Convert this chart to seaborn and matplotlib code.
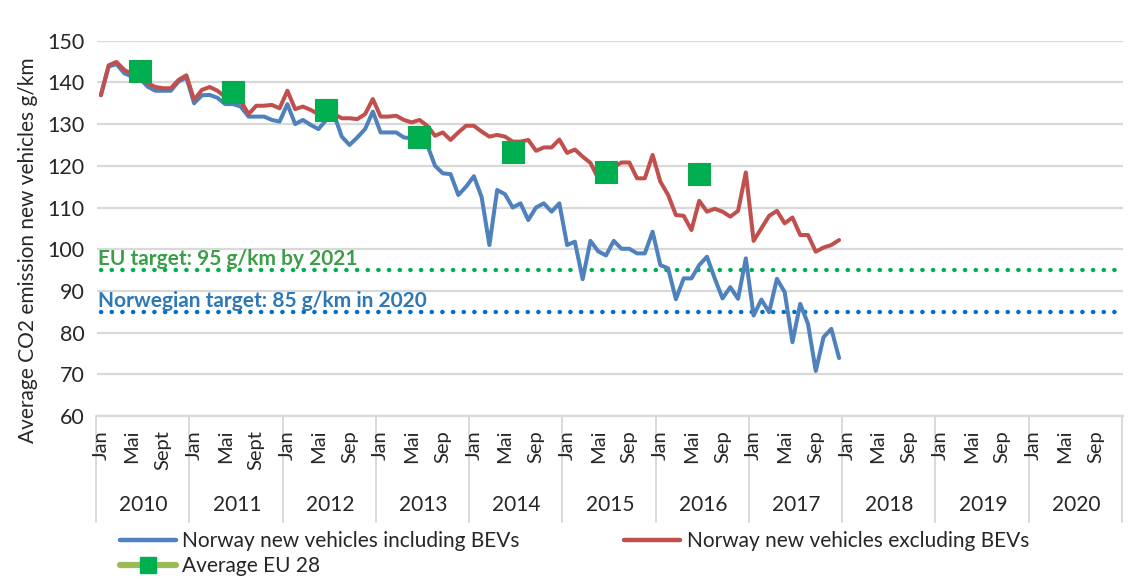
import numpy as np
import pandas as pd
import matplotlib
matplotlib.use("Agg")
import matplotlib.pyplot as plt
from matplotlib.lines import Line2D
import seaborn as sns

# ── Data (monthly, Jan 2010 – Dec 2017) ──────────────────────────────────────
YEARS = [2010, 2011, 2012, 2013, 2014, 2015, 2016, 2017, 2018, 2019, 2020]

incl_bev = [
    137, 143.8, 144.4, 142.2, 141.4, 141, 139, 138, 138, 138, 140.2, 141.2,
    135, 136.9, 137, 136.3, 134.8, 134.8, 134.2, 131.8, 131.8, 131.8, 131, 130.6,
    134.8, 130, 131, 129.8, 128.8, 131, 132.3, 127, 125, 126.8, 128.8, 133,
    128, 128, 128, 126.8, 126.6, 126.4, 125, 120, 118.2, 118, 113, 115,
    117.5, 112.5, 101, 114.2, 113.2, 110, 111, 107, 110, 111, 109, 111,
    101, 101.8, 92.8, 102, 99.5, 98.5, 102, 100.1, 100.1, 99, 99, 104.2,
    96.2, 95.4, 88, 93, 93, 96.2, 98.2, 93, 88.2, 90.9, 88.1, 97.8,
    84.1, 87.9, 84.9, 92.9, 89.7, 77.7, 86.9, 82.1, 70.8, 78.9, 80.9, 73.9,
]
excl_bev = [
    136.9, 144.1, 144.9, 143, 142, 141, 139.8, 138.9, 138.6, 138.6, 140.6, 141.7,
    135.8, 138.2, 138.9, 138, 136.5, 136.4, 135.6, 132.4, 134.4, 134.4, 134.6, 133.8,
    138, 133.6, 134.2, 133.4, 132.4, 132.8, 132.4, 131.4, 131.4, 131.2, 132.4, 136,
    131.8, 131.8, 132, 131, 130.4, 131, 129.6, 127.2, 128, 126.2, 128, 129.6,
    129.6, 128.2, 127, 127.4, 127, 125.8, 125.8, 126.2, 123.6, 124.4, 124.4, 126.3,
    123.1, 123.9, 122.2, 120.7, 117, 118.6, 119.7, 120.8, 120.8, 117, 117, 122.6,
    116.2, 113, 108.2, 108, 104.6, 111.6, 109, 109.7, 109, 107.8, 109.2, 118.4,
    102, 105, 108, 109.2, 106.2, 107.6, 103.4, 103.4, 99.4, 100.4, 101, 102.2,
]
# EU-28 yearly average, plotted at June 2010–2016
eu_years = [2010, 2011, 2012, 2013, 2014, 2015, 2016]
eu_avg = [142.8, 137.7, 133.5, 126.9, 123.3, 118.5, 118.1]

EU_TARGET = 95
NO_TARGET = 85

# ── Style ─────────────────────────────────────────────────────────────────────
BLUE, RED = "#4F81BD", "#C0504D"
GREEN_MK, GREEN_LN = "#00B050", "#9BBB59"
GRID = "#D9D9D9"
TEXT = "#262626"

sns.set_theme(style="white")
plt.rcParams["font.family"] = ["Lato", "DejaVu Sans"]
FS = 15

n_months = len(YEARS) * 12
df = pd.DataFrame({
    "m": np.arange(len(incl_bev)),
    "incl": incl_bev,
    "excl": excl_bev,
})
eu_df = pd.DataFrame({"m": [(y - 2010) * 12 + 5 for y in eu_years], "v": eu_avg})

fig = plt.figure(figsize=(11.3, 5.79), dpi=100)
W, H = 1130, 579
ax = fig.add_axes([97 / W, 1 - 416 / H, (1122.7 - 97) / W, (416 - 40.7) / H])

# target lines, full range of the category axis
full = np.arange(n_months)
ax.plot(full, np.full(n_months, EU_TARGET), color="#00B050", lw=3.2,
        linestyle=(0, (0.05, 2.35)), dash_capstyle="round", zorder=2)
ax.plot(full, np.full(n_months, NO_TARGET), color="#0070C0", lw=3.2,
        linestyle=(0, (0.05, 2.35)), dash_capstyle="round", zorder=2)

sns.lineplot(data=df, x="m", y="incl", color=BLUE, lw=2.9, ax=ax, zorder=3)
sns.lineplot(data=df, x="m", y="excl", color=RED, lw=2.9, ax=ax, zorder=4)
ax.plot(eu_df["m"], eu_df["v"], linestyle="none", marker="s", ms=15.5,
        color=GREEN_MK, mec="#12A350", mew=0.8, zorder=5)

ax.text(-0.4, EU_TARGET + 0.2, "EU target: 95 g/km by 2021", color="#3C9E47",
        fontsize=FS, fontweight="bold", va="bottom", ha="left", zorder=6)
ax.text(-0.4, NO_TARGET + 0.2, "Norwegian target: 85 g/km in 2020", color="#2F78B8",
        fontsize=FS, fontweight="bold", va="bottom", ha="left", zorder=6)

# axes
ax.set_xlim(-0.5, n_months - 0.5)
ax.set_ylim(60, 150)
ax.set_yticks(range(60, 151, 10))
ax.yaxis.grid(True, color=GRID, lw=1.6)
ax.set_axisbelow(True)
for s in ["top", "right", "left"]:
    ax.spines[s].set_visible(False)
ax.spines["bottom"].set_color(GRID)
ax.spines["bottom"].set_linewidth(1.6)
ax.set_xlabel("")
ax.set_ylabel("")

ticks = list(range(0, n_months, 4))
labels = []
for t in ticks:
    yr, mo = YEARS[t // 12], t % 12
    labels.append({0: "Jan", 4: "Mai", 8: "Sept" if yr <= 2011 else "Sep"}[mo])
ax.set_xticks(ticks)
ax.set_xticklabels(labels, rotation=90, fontsize=FS - 0.5, color=TEXT)
ax.tick_params(axis="x", length=0, pad=10)
ax.tick_params(axis="y", length=0, pad=9, labelsize=FS + 0.5, labelcolor=TEXT)
for lab in ax.get_xticklabels():
    lab.set_zorder(10)

# year level of the category axis
tr = ax.get_xaxis_transform()
for k, yr in enumerate(YEARS):
    ax.text(k * 12 + 5.5, -0.237, str(yr), transform=tr, ha="center", va="center",
            fontsize=FS, color=TEXT)
for k in range(len(YEARS) + 1):
    ax.plot([k * 12 - 0.62] * 2, [0, -0.282], transform=tr, color=GRID, lw=1.4,
            clip_on=False, zorder=0.5)

fig.text(28 / W, 1 - 250 / H, "Average CO2 emission new vehicles g/km", rotation=90,
         ha="center", va="center", fontsize=FS, color=TEXT)

# legend
handles = [
    Line2D([], [], color=BLUE, lw=3.2),
    Line2D([], [], color=GREEN_LN, lw=4.5, marker="s", ms=11, mfc=GREEN_MK, mec=GREEN_MK),
    Line2D([], [], color=RED, lw=3.2),
]
names = ["Norway new vehicles including BEVs", "Average EU 28",
         "Norway new vehicles excluding BEVs"]
fig.legend(handles, names, loc="upper left", bbox_to_anchor=(120 / W, 1 - 531 / H),
           ncol=2, frameon=False, fontsize=FS, handlelength=2.7, handletextpad=0.3,
           columnspacing=5.0, labelspacing=0.25, borderaxespad=0, borderpad=0,
           labelcolor=TEXT)

fig.savefig("out.png", dpi=100)
